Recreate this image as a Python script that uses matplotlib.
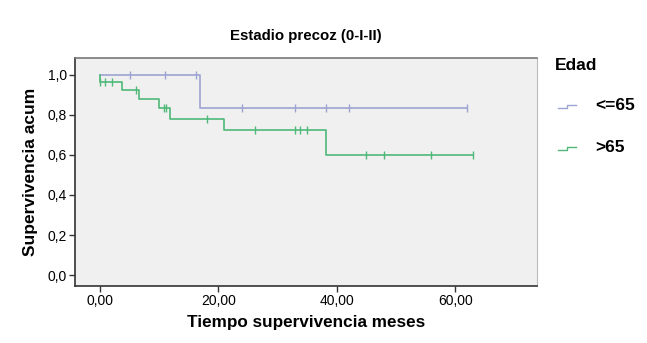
import matplotlib
matplotlib.use("Agg")
import matplotlib.pyplot as plt
from matplotlib.lines import Line2D
import numpy as np

plt.rcParams['font.family'] = ['Liberation Sans', 'DejaVu Sans']

# Kaplan-Meier steps
blue_label = "<=65"
blue_times = [0.0, 16.9, 62.0]
blue_surv = [1.0, 0.833, 0.833]
blue_cens_t = [5.0, 11.0, 16.2, 24.0, 32.9, 38.1, 42.1, 62.0]

green_label = ">65"
green_times = [0.0, 0.0, 3.8, 6.6, 10.0, 11.8, 21.0, 38.1, 63.0]
green_surv = [1.0, 0.963, 0.925, 0.879, 0.833, 0.778, 0.723, 0.601, 0.601]
green_cens_t = [0.0, 0.9, 2.0, 6.1, 10.8, 11.2, 18.1, 26.2, 32.9, 33.8, 34.9, 44.9, 48.0, 55.9, 63.0]

x_ticks = [0, 20, 40, 60]
x_ticklabels = ["0,00", "20,00", "40,00", "60,00"]
y_ticks = [0.0, 0.2, 0.4, 0.6, 0.8, 1.0]
y_ticklabels = ["0,0", "0,2", "0,4", "0,6", "0,8", "1,0"]

title = "Estadio precoz (0-I-II)"
xlabel = "Tiempo supervivencia meses"
ylabel = "Supervivencia acum"
legend_title = "Edad"

blue_c = "#9ea4d2"
green_c = "#4fb878"

W, H = 647, 343
fig = plt.figure(figsize=(W / 100, H / 100), dpi=100)
ax = fig.add_axes([75 / W, 1 - 286 / H, (537 - 75) / W, (286 - 58.3) / H])
ax.set_facecolor("#f0f0f0")


def surv_at(times, surv, t):
    val = surv[0]
    for tt, s in zip(times, surv):
        if tt <= t:
            val = s
    return val


for times, surv, cens, c in [(blue_times, blue_surv, blue_cens_t, blue_c),
                             (green_times, green_surv, green_cens_t, green_c)]:
    ax.step(times, surv, where="post", color=c, lw=1.2)
    ys = [surv_at(times, surv, t) for t in cens]
    ax.plot(cens, ys, linestyle="none", marker="|", color=c, ms=6, mew=1.0)

ax.set_xlim(-4.22, 73.8)
ax.set_ylim(-0.054, 1.081)
ax.set_xticks(x_ticks)
ax.set_xticklabels(x_ticklabels, fontsize=10)
ax.set_yticks(y_ticks)
ax.set_yticklabels(y_ticklabels, fontsize=10)
ax.tick_params(direction="out", length=4, width=1, color="#333333", pad=2)

for s in ["left", "bottom"]:
    ax.spines[s].set_color("#333333")
    ax.spines[s].set_linewidth(1.2)
ax.spines["top"].set_color("#777777")
ax.spines["top"].set_linewidth(1.2)
ax.spines["right"].set_color("#bbbbbb")

ax.set_title(title, fontsize=10.8, fontweight="bold", pad=13)
ax.set_xlabel(xlabel, fontsize=12.3, fontweight="bold", labelpad=5)
ax.set_ylabel(ylabel, fontsize=12.5, fontweight="bold", labelpad=7)

# legend drawn in figure coordinates
fig.text(555 / W, 1 - 66 / H, legend_title, fontsize=12.5, fontweight="bold", va="center", ha="left")
for lab, c, yc in [(blue_label, blue_c, 106), (green_label, green_c, 148)]:
    xs = np.array([558, 567, 567, 576]) / W
    ys = 1 - np.array([yc + 2, yc + 2, yc - 1.5, yc - 1.5]) / H
    fig.add_artist(Line2D(xs, ys, color=c, lw=1.0, transform=fig.transFigure))
    fig.text(595 / W, 1 - (yc - 1) / H, lab, fontsize=12.5, fontweight="bold", va="center", ha="left")

fig.savefig("out.png", dpi=100)
